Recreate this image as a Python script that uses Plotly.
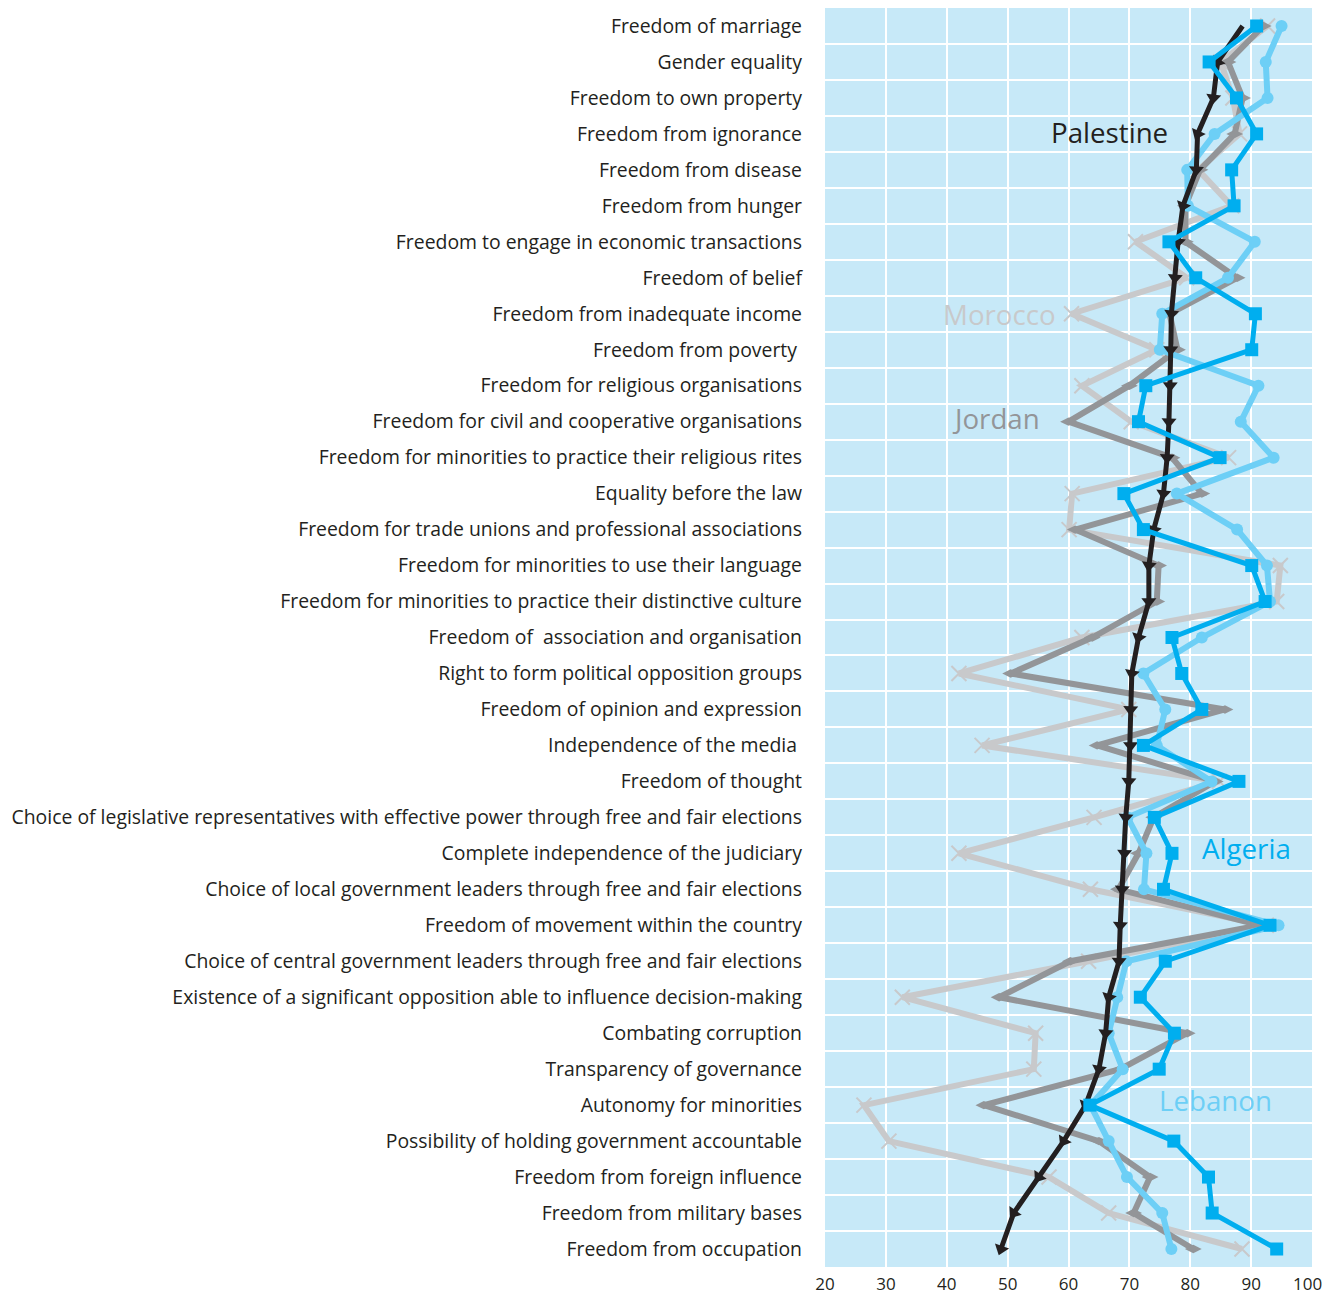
import plotly.graph_objects as go

categories = [
    "Freedom of marriage",
    "Gender equality",
    "Freedom to own property",
    "Freedom from ignorance",
    "Freedom from disease",
    "Freedom from hunger",
    "Freedom to engage in economic transactions",
    "Freedom of belief",
    "Freedom from inadequate income",
    "Freedom from poverty ",
    "Freedom for religious organisations",
    "Freedom for civil and cooperative organisations",
    "Freedom for minorities to practice their religious rites",
    "Equality before the law",
    "Freedom for trade unions and professional associations",
    "Freedom for minorities to use their language",
    "Freedom for minorities to practice their distinctive culture",
    "Freedom of  association and organisation",
    "Right to form political opposition groups",
    "Freedom of opinion and expression",
    "Independence of the media ",
    "Freedom of thought",
    "Choice of legislative representatives with effective power through free and fair elections",
    "Complete independence of the judiciary",
    "Choice of local government leaders through free and fair elections",
    "Freedom of movement within the country",
    "Choice of central government leaders through free and fair elections",
    "Existence of a significant opposition able to influence decision-making",
    "Combating corruption",
    "Transparency of governance",
    "Autonomy for minorities",
    "Possibility of holding government accountable",
    "Freedom from foreign influence",
    "Freedom from military bases",
    "Freedom from occupation",
]

palestine = [88.6, 84.5, 83.8, 81.2, 81.0, 78.8, 78.0, 77.5, 76.9, 76.8, 76.7, 76.5,
             76.2, 75.6, 74.0, 73.2, 73.2, 71.5, 70.4, 70.2, 70.2, 69.9, 69.4, 69.2,
             68.8, 68.5, 68.3, 66.6, 66.1, 65.0, 62.8, 59.2, 55.1, 51.0, 48.9]
morocco = [92.7, 85.0, 87.0, 88.1, 81.3, 86.8, 71.0, 79.4, 60.5, 74.5, 62.2, 70.3,
           86.3, 60.6, 60.1, 94.8, 94.2, 62.2, 42.0, 69.9, 45.8, 84.8, 64.2, 42.0,
           63.6, 92.5, 63.3, 32.7, 54.6, 54.3, 26.4, 30.5, 56.8, 66.6, 88.5]
jordan = [92.0, 86.2, 88.6, 87.3, 81.6, 79.2, 79.2, 87.7, 76.6, 77.9, 70.0, 60.0,
          77.0, 81.9, 61.1, 74.8, 74.5, 63.9, 50.5, 85.7, 64.7, 84.1, 74.0, 71.5,
          68.2, 91.5, 60.3, 48.6, 79.5, 68.5, 46.1, 65.0, 73.4, 70.7, 80.5]
algeria = [90.9, 83.1, 87.6, 90.9, 86.8, 87.2, 76.5, 80.9, 90.7, 90.1, 72.7, 71.5,
           84.9, 69.1, 72.3, 90.1, 92.3, 77.0, 78.6, 81.9, 72.3, 88.0, 74.1, 77.0,
           75.6, 93.1, 75.9, 71.8, 77.4, 74.9, 63.5, 77.3, 83.0, 83.6, 94.2]
lebanon = [95.0, 92.4, 92.7, 84.0, 79.5, 79.6, 90.6, 86.2, 75.4, 75.0, 91.2, 88.3,
           93.7, 77.8, 87.7, 92.6, 93.1, 81.9, 72.3, 75.9, 74.5, 83.5, 69.7, 72.8,
           72.4, 94.5, 69.5, 68.0, 66.6, 68.9, 63.6, 66.6, 69.6, 75.4, 76.9]

x_ticks = [20, 30, 40, 50, 60, 70, 80, 90, 100]
x_ticktext = ["20", "30", "40", "50", "60", "70", "80", "90", "100\u00a0\u00a0"]

C_PAL = "#231f20"
C_MOR = "#c8c9cb"
C_JOR = "#939598"
C_ALG = "#00aeef"
C_LEB = "#6dcff6"
BG = "#c7e9f8"

fig = go.Figure()

fig.add_trace(go.Scatter(
    x=morocco, y=categories, mode="lines+markers", name="Morocco",
    line=dict(color=C_MOR, width=6),
    marker=dict(symbol="x-thin", size=15, line=dict(color=C_MOR, width=2)),
))
fig.add_trace(go.Scatter(
    x=jordan, y=categories, mode="lines+markers", name="Jordan",
    line=dict(color=C_JOR, width=6),
    marker=dict(symbol="diamond-wide", size=12, color=C_JOR),
))
fig.add_trace(go.Scatter(
    x=lebanon, y=categories, mode="lines+markers", name="Lebanon",
    line=dict(color=C_LEB, width=6),
    marker=dict(symbol="circle", size=12, color=C_LEB),
))
fig.add_trace(go.Scatter(
    x=palestine, y=categories, mode="lines+markers", name="Palestine",
    line=dict(color=C_PAL, width=5),
    marker=dict(symbol="triangle-up", size=13, color=C_PAL, angleref="previous"),
))
fig.add_trace(go.Scatter(
    x=algeria, y=categories, mode="lines+markers", name="Algeria",
    line=dict(color=C_ALG, width=5),
    marker=dict(symbol="square", size=13, color=C_ALG),
))

series_labels = [
    ("Palestine", C_PAL, 66.7, 2.95),
    ("Morocco", C_MOR, 48.7, 8.0),
    ("Jordan", C_JOR, 48.1, 10.9),
    ("Algeria", C_ALG, 89.3, 22.85),
    ("Lebanon", C_LEB, 84.2, 29.85),
]
for name, col, lx, ly in series_labels:
    fig.add_annotation(x=lx, y=ly, xref="x", yref="y", text=name, showarrow=False,
                       font=dict(family="Open Sans", size=27.7, color=col))

fig.update_layout(
    width=1324, height=1289,
    margin=dict(l=817, r=20, t=0, b=30),
    paper_bgcolor="white",
    plot_bgcolor=BG,
    showlegend=False,
    font=dict(family="Open Sans", color="#231f20"),
    xaxis=dict(
        range=[20, 100], tickvals=x_ticks, ticktext=x_ticktext,
        showgrid=True, gridcolor="white", gridwidth=2,
        zeroline=False, showline=False, ticks="",
        ticklabelstandoff=5,
        ticklabeloverflow="allow",
        tickfont=dict(size=17, color="#231f20"),
        automargin=False,
    ),
    yaxis=dict(
        type="category", categoryorder="array", categoryarray=categories,
        range=[len(categories) - 0.5, -0.5],
        tickson="boundaries", showgrid=True, gridcolor="white", gridwidth=2,
        zeroline=False, showline=False, ticks="",
        ticklabelstandoff=22,
        tickfont=dict(size=19.4, color="#231f20"),
        automargin=False,
    ),
)

fig.write_html("out.html")
